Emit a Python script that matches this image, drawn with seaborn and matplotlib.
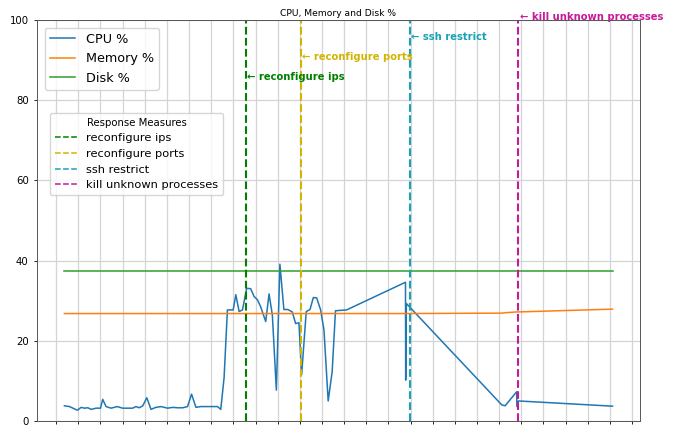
import numpy as np
import pandas as pd
import seaborn as sns
import matplotlib.pyplot as plt
from matplotlib.lines import Line2D
from matplotlib.ticker import MultipleLocator

# sample times (minutes from start) and usage values
minutes = [0.37, 0.60, 0.95, 1.13, 1.27, 1.43, 1.58, 1.80, 2.00, 2.10,
           2.25, 2.48, 2.75, 3.00, 3.23, 3.45, 3.60, 3.75, 3.91, 4.09,
           4.28, 4.50, 4.73, 5.03, 5.26, 5.48, 5.71, 5.93, 6.11, 6.31,
           6.53, 6.76, 6.98, 7.28, 7.43, 7.58, 7.73, 7.88, 7.99, 8.11,
           8.26, 8.41, 8.60, 8.78, 8.93, 9.09, 9.23, 9.46, 9.61, 9.76,
           9.94, 10.10, 10.28, 10.46, 10.66, 10.81, 10.96, 11.08, 11.29, 11.46,
           11.61, 11.76, 11.94, 12.09, 12.28, 12.46, 12.61, 13.11, 15.77, 15.78,
           15.81, 20.12, 20.27, 20.79, 20.80, 20.87, 25.12]
cpu = [3.8, 3.6, 2.7, 3.4, 3.2, 3.3, 2.9, 3.2, 3.2, 5.4,
       3.6, 3.2, 3.6, 3.2, 3.2, 3.2, 3.6, 3.3, 3.8, 5.8,
       2.9, 3.4, 3.6, 3.2, 3.4, 3.3, 3.3, 3.6, 6.7, 3.4,
       3.6, 3.6, 3.6, 3.6, 2.9, 10.8, 27.7, 27.7, 27.7, 31.5,
       27.3, 27.7, 33.1, 33.0, 31.1, 30.2, 28.5, 24.8, 31.7, 26.4,
       7.7, 39.1, 27.8, 27.8, 27.2, 24.3, 24.5, 11.5, 27.3, 27.8,
       30.8, 30.7, 27.7, 22.7, 5.0, 12.3, 27.5, 27.7, 34.6, 10.2,
       29.3, 4.0, 3.8, 7.3, 3.6, 5.0, 3.7]
memory = [26.8] * 71 + [26.9, 27.0, 27.2, 27.2, 27.2, 27.9]
disk = [37.3] * 77

# response measures
measures = ['reconfigure ips', 'reconfigure ports', 'ssh restrict', 'kill unknown processes']
measure_times = [8.56, 11.04, 15.96, 20.87]
measure_colors = ['green', '#d1b500', '#17a2b8', '#c71a9b']
label_heights = [85.8, 90.8, 95.8, 100.8]

df = pd.DataFrame({'minute': minutes, 'CPU %': cpu, 'Memory %': memory, 'Disk %': disk})

fig = plt.figure(figsize=(6.75, 4.25), dpi=100)
ax = fig.add_axes([0.0548, 0.0094, 0.8933, 0.9435])

series_colors = ['#1f77b4', '#ff7f0e', '#2ca02c']
for col, c in zip(['CPU %', 'Memory %', 'Disk %'], series_colors):
    sns.lineplot(data=df, x='minute', y=col, ax=ax, color=c, lw=1.1,
                 estimator=None, sort=False)

for t, name, c, h in zip(measure_times, measures, measure_colors, label_heights):
    ax.axvline(t, color=c, ls='--', lw=1.5)
    ax.text(t + 0.06, h, '\u2190 ' + name, color=c, fontsize=7.2,
            fontweight='bold', va='center', ha='left', clip_on=False)

ax.set_ylim(0, 100)
ax.xaxis.set_major_locator(MultipleLocator(1))
ax.yaxis.set_major_locator(MultipleLocator(20))
ax.set_xticklabels([])
ax.set_xlabel('')
ax.set_ylabel('')
ax.tick_params(labelsize=7.3, length=2.5, width=0.6)
ax.grid(True, color='#d4d4d4', lw=0.9)
for s in ax.spines.values():
    s.set_linewidth(0.7)
    s.set_color('#555555')
ax.set_title('CPU, Memory and Disk %', fontsize=6.6, pad=3)

h1 = [Line2D([], [], color=c, lw=1.1) for c in series_colors]
leg1 = ax.legend(h1, ['CPU %', 'Memory %', 'Disk %'], loc='upper left',
                 fontsize=9.2, borderaxespad=0.6)
ax.add_artist(leg1)
h2 = [Line2D([], [], color=c, ls='--', lw=1.1) for c in measure_colors]
ax.legend(h2, measures, title='Response Measures', title_fontsize=7.3,
          fontsize=8.2, loc='upper left', bbox_to_anchor=(0.0216, 0.768),
          borderaxespad=0)

fig.savefig('out.png', dpi=100)
